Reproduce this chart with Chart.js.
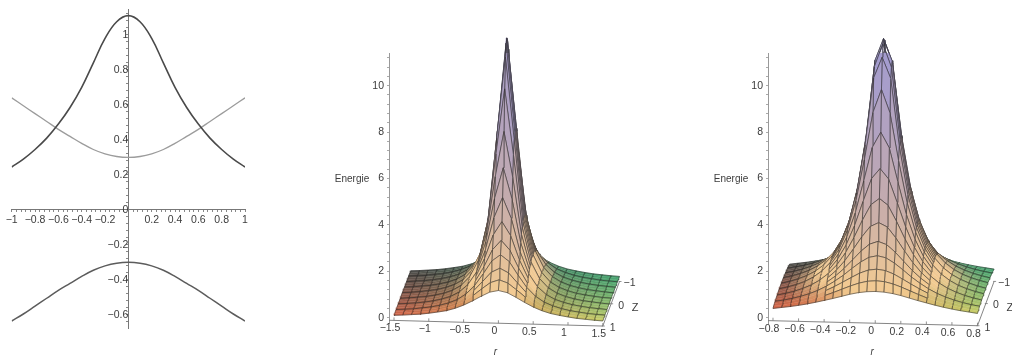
<!DOCTYPE html>
<html>
<head>
<meta charset="utf-8">
<script src="https://cdn.jsdelivr.net/npm/chart.js@4"></script>
<style>
html, body { margin: 0; background: #fff; overflow: hidden; }
canvas { position: absolute; filter: blur(0.6px); }
</style>
</head>
<body>
<canvas id="curves" width="260" height="340" style="left:0;top:0"></canvas>
<canvas id="wide" width="340" height="339" style="left:320px;top:20px"></canvas>
<canvas id="narrow" width="312" height="339" style="left:700px;top:20px"></canvas>
<script>
// left plot
const curveX = [-1,-0.9,-0.8,-0.7,-0.6,-0.5,-0.4,-0.3,-0.2,-0.1,0,0.1,0.2,0.3,0.4,0.5,0.6,0.7,0.8,0.9,1];
const upperBand = [0.245,0.29,0.345,0.41,0.49,0.585,0.7,0.84,0.98,1.075,1.11,1.075,0.98,0.84,0.7,0.585,0.49,0.41,0.345,0.29,0.245];
const middleBand = [0.64,0.595,0.55,0.505,0.46,0.42,0.38,0.345,0.32,0.305,0.3,0.305,0.32,0.345,0.38,0.42,0.46,0.505,0.55,0.595,0.64];
const lowerBand = [-0.635,-0.595,-0.55,-0.505,-0.46,-0.42,-0.38,-0.345,-0.32,-0.305,-0.3,-0.305,-0.32,-0.345,-0.38,-0.42,-0.46,-0.505,-0.55,-0.595,-0.635];

// surfaces: one quarter of the grid, front row (Z=1) to centre row (Z=0), r=0 to the outer edge
const zRows = [1,0.9167,0.8333,0.75,0.6667,0.5833,0.5,0.4167,0.3333,0.25,0.1667,0.0833,0];
const wideR = [0,0.125,0.25,0.375,0.5,0.625,0.75,0.875,1,1.125,1.25,1.375,1.5];
const narrowR = [0,0.0667,0.1333,0.2,0.2667,0.3333,0.4,0.4667,0.5333,0.6,0.6667,0.7333,0.8];
const wideEnergy = [
  [1.32,1.24,1.05,0.84,0.65,0.50,0.39,0.32,0.26,0.21,0.18,0.15,0.13],
  [1.70,1.57,1.29,0.99,0.74,0.55,0.43,0.34,0.27,0.22,0.19,0.16,0.13],
  [2.12,1.93,1.52,1.12,0.82,0.59,0.45,0.35,0.28,0.23,0.19,0.16,0.14],
  [2.62,2.34,1.77,1.25,0.88,0.63,0.48,0.37,0.29,0.24,0.19,0.16,0.14],
  [3.16,2.75,1.99,1.36,0.94,0.66,0.49,0.38,0.30,0.24,0.20,0.17,0.14],
  [3.89,3.30,2.27,1.49,1.00,0.69,0.51,0.39,0.30,0.24,0.20,0.17,0.14],
  [4.85,3.96,2.54,1.60,1.05,0.72,0.52,0.40,0.31,0.25,0.20,0.17,0.14],
  [6.05,4.72,2.84,1.70,1.09,0.74,0.53,0.40,0.31,0.25,0.20,0.17,0.14],
  [7.54,5.58,3.13,1.80,1.13,0.76,0.54,0.41,0.32,0.25,0.21,0.17,0.14],
  [9.30,6.48,3.38,1.88,1.16,0.77,0.55,0.41,0.32,0.25,0.21,0.17,0.14],
  [10.6,7.08,3.53,1.93,1.18,0.78,0.55,0.41,0.32,0.25,0.21,0.17,0.15],
  [11.1,7.28,3.59,1.94,1.18,0.78,0.56,0.42,0.32,0.26,0.21,0.17,0.15],
  [11.25,7.34,3.61,1.95,1.19,0.78,0.56,0.42,0.32,0.26,0.21,0.17,0.15]
];
const narrowEnergy = [
  [1.20,1.18,1.13,1.05,0.95,0.85,0.76,0.67,0.59,0.52,0.46,0.41,0.36],
  [1.58,1.55,1.46,1.33,1.18,1.03,0.89,0.77,0.67,0.58,0.51,0.44,0.39],
  [2.00,1.95,1.81,1.61,1.40,1.20,1.02,0.86,0.73,0.63,0.54,0.47,0.41],
  [2.50,2.42,2.20,1.92,1.62,1.36,1.13,0.94,0.79,0.67,0.57,0.49,0.43],
  [3.04,2.91,2.60,2.21,1.83,1.50,1.23,1.01,0.84,0.70,0.60,0.51,0.44],
  [3.77,3.59,3.13,2.59,2.08,1.66,1.33,1.08,0.89,0.74,0.62,0.53,0.45],
  [4.73,4.45,3.77,3.01,2.34,1.82,1.44,1.15,0.93,0.77,0.64,0.54,0.46],
  [5.94,5.50,4.50,3.45,2.60,1.98,1.53,1.21,0.97,0.79,0.66,0.56,0.47],
  [7.43,6.76,5.31,3.91,2.86,2.12,1.61,1.26,1.00,0.82,0.68,0.57,0.48],
  [9.19,8.19,6.15,4.35,3.08,2.24,1.68,1.30,1.03,0.83,0.69,0.58,0.49],
  [10.5,9.60,6.71,4.62,3.22,2.32,1.72,1.32,1.04,0.84,0.69,0.58,0.49],
  [11.0,10.0,6.90,4.71,3.26,2.34,1.74,1.33,1.05,0.84,0.70,0.58,0.49],
  [11.15,10.2,6.96,4.74,3.28,2.35,1.74,1.33,1.05,0.85,0.70,0.58,0.49]
];
const energyTicks = [0,2,4,6,8,10];
const wideTicks = [-1.5,-1,-0.5,0,0.5,1,1.5];
const narrowTicks = [-0.8,-0.6,-0.4,-0.2,0,0.2,0.4,0.6,0.8];
const zTicks = [-1,0,1];

const FONT = '"Liberation Sans", Arial, sans-serif';
const TXT = '#3c3c3c';
const GAP = { x: NaN, y: NaN };

function fmt(v) {
  return v < 0 ? '\u2212' + (-v) : String(v);
}
function xy(xs, ys) {
  return xs.map((x, i) => ({ x: x, y: ys[i] }));
}
function band(ys, color, w) {
  return { data: xy(curveX, ys), borderColor: color, borderWidth: w, pointRadius: 0, tension: 0.4, fill: false };
}

new Chart(document.getElementById('curves'), {
  type: 'line',
  data: { datasets: [band(upperBand, '#4a4a4a', 1.6), band(middleBand, '#9c9c9c', 1.3), band(lowerBand, '#5c5c5c', 1.5)] },
  options: {
    responsive: false,
    animation: false,
    devicePixelRatio: 1,
    events: [],
    layout: { padding: { left: 11.7, right: 15, top: 7, bottom: 12 } },
    plugins: { legend: { display: false }, tooltip: { enabled: false } },
    scales: {
      x: {
        type: 'linear', min: -1, max: 1, position: { y: 0 },
        grid: { drawOnChartArea: false, tickLength: 2, tickColor: '#888' },
        border: { color: '#777' },
        ticks: {
          stepSize: 0.04, autoSkip: false, maxRotation: 0, includeBounds: false, padding: 2,
          color: TXT, font: { family: FONT, size: 10.5 },
          callback: v => {
            const n = Math.round(v * 100);
            if (n === 0 || n % 20 !== 0) return '';
            return fmt(n / 100);
          }
        }
      },
      y: {
        type: 'linear', min: -0.675, max: 1.146, position: { x: 0 },
        grid: { drawOnChartArea: false, tickLength: 2, tickColor: '#888' },
        border: { color: '#777' },
        ticks: {
          stepSize: 0.04, autoSkip: false, includeBounds: false, padding: 3,
          color: TXT, font: { family: FONT, size: 10.5 },
          callback: v => {
            const n = Math.round(v * 100);
            return n % 20 !== 0 ? '' : fmt(n / 100);
          }
        }
      }
    }
  }
});

function mix(a, b, t) {
  t = Math.max(0, Math.min(1, t));
  return [a[0] + (b[0] - a[0]) * t, a[1] + (b[1] - a[1]) * t, a[2] + (b[2] - a[2]) * t];
}
function patchColor(u, d, e) {
  const front = mix([222, 104, 74], [208, 208, 104], u);
  const back = mix([78, 78, 76], [70, 165, 115], u);
  const base = mix(front, back, Math.pow(d, 0.7));
  let high = e < 4.5 ? mix([243, 203, 146], [198, 172, 172], (e - 1.2) / 3.3) : mix([198, 172, 172], [164, 156, 206], (e - 4.5) / 5.5);
  if (d > 0.5) high = mix(high, [84, 84, 92], (d - 0.5) * 1.6);
  const c = mix(base, high, (e - 0.55) / 0.65);
  return 'rgb(' + c.map(Math.round).join(',') + ')';
}

// p holds the oblique view of one surface: back edge shifted right and up, slight tilt along r
function project(p, r, z, e) {
  const d = (1 - z) / 2;
  return { x: r + p.dx * d, y: e + p.lift + p.tilt * r + p.dy * d };
}

function surfaceDatasets(rQuarter, energy, p) {
  const rs = rQuarter.slice(1).reverse().map(v => -v).concat(rQuarter);
  const zs = zRows.concat(zRows.slice(0, -1).reverse().map(v => -v));
  const n = rQuarter.length - 1;
  const at = (i, j) => energy[j <= n ? j : 2 * n - j][Math.abs(i - n)];
  const pt = (i, j) => project(p, rs[i], zs[j], at(i, j));
  const rMax = rQuarter[n];
  const sets = [];
  // front rows first: chart.js paints the first dataset last
  for (let j = 0; j < 2 * n; j++) {
    for (let i = 0; i < 2 * n; i++) {
      const e = (at(i, j) + at(i + 1, j) + at(i, j + 1) + at(i + 1, j + 1)) / 4;
      const color = patchColor((rs[i] + rs[i + 1] + 2 * rMax) / (4 * rMax), (j + 0.5) / (2 * n), e);
      // out on the flat tails only every third row line shows
      const outer = Math.min(Math.abs(i - n), Math.abs(i + 1 - n)) >= p.rowKeep;
      let mesh = [pt(i, j), pt(i, j + 1), GAP, pt(i + 1, j), pt(i + 1, j + 1)];
      if (!outer || j % 3 === 0) mesh = mesh.concat([GAP, pt(i, j), pt(i + 1, j)]);
      if (!outer || (j + 1) % 3 === 0) mesh = mesh.concat([GAP, pt(i, j + 1), pt(i + 1, j + 1)]);
      sets.push({
        data: mesh,
        borderColor: 'rgba(30,30,30,0.75)',
        borderWidth: 0.7,
        pointRadius: 0,
        tension: 0,
        fill: false,
        clip: false
      });
      sets.push({
        data: [pt(i, j), pt(i + 1, j), pt(i + 1, j + 1), pt(i, j + 1), pt(i, j)],
        backgroundColor: color,
        borderColor: color,
        borderWidth: 0.4,
        pointRadius: 0,
        tension: 0,
        fill: 'shape',
        clip: false
      });
    }
  }
  return sets;
}

function axisLine(a, b) {
  return { data: [a, b], borderColor: '#777', borderWidth: 0.9, pointRadius: 0, fill: false, clip: false };
}

function labelsPlugin(p, rTicks, rMax, zName, rLabelY) {
  return {
    id: 'surfaceLabels',
    afterDraw(chart) {
      const sx = chart.scales.x, sy = chart.scales.y, c = chart.ctx;
      c.save();
      c.fillStyle = TXT;
      c.strokeStyle = '#777';
      c.lineWidth = 0.8;
      c.font = '10.5px ' + FONT;
      c.textAlign = 'center';
      c.textBaseline = 'middle';
      rTicks.forEach(t => {
        const q = project(p, t, 1, p.axisE);
        const px = sx.getPixelForValue(q.x), py = sy.getPixelForValue(q.y);
        c.beginPath(); c.moveTo(px, py); c.lineTo(px, py - 3); c.stroke();
        c.fillText(fmt(t), px - 4, py + 8);
      });
      zTicks.forEach(t => {
        const q = project(p, rMax, t, p.axisE);
        const px = sx.getPixelForValue(q.x) + 2, py = sy.getPixelForValue(q.y);
        c.beginPath(); c.moveTo(px, py); c.lineTo(px - 3, py); c.stroke();
        c.fillText(fmt(t), px + 8, py + 2);
      });
      if (zName) {
        const q = project(p, rMax, 0, p.axisE);
        c.font = '11px ' + FONT;
        c.fillText('Z', sx.getPixelForValue(q.x) + 24, sy.getPixelForValue(q.y) + 4);
      }
      c.font = '10px ' + FONT;
      c.fillText('Energie', sx.left - 37, sy.getPixelForValue(5.98));
      c.font = 'italic 10px ' + FONT;
      const mid = project(p, 0, 1, p.axisE);
      c.fillText('r', sx.getPixelForValue(mid.x) - 3, rLabelY);
      c.restore();
    }
  };
}

function surfaceChart(id, rQuarter, energy, rTicks, p, box, zName) {
  const rMax = rQuarter[rQuarter.length - 1];
  const lines = [
    axisLine(project(p, box.rLeft, 1, p.axisE), project(p, rMax, 1, p.axisE)),
    axisLine(project(p, rMax, 1, p.axisE), project(p, rMax, -1, p.axisE))
  ];
  new Chart(document.getElementById(id), {
    type: 'line',
    data: { datasets: lines.concat(surfaceDatasets(rQuarter, energy, p)) },
    plugins: [labelsPlugin(p, rTicks, rMax, zName, 332)],
    options: {
      responsive: false,
      animation: false,
      devicePixelRatio: 1,
      events: [],
      layout: { padding: { left: box.left - 30, right: 0, top: 33, bottom: 36 } },
      plugins: { legend: { display: false }, tooltip: { enabled: false } },
      scales: {
        x: { type: 'linear', display: false, min: box.xMin, max: box.xMax },
        y: {
          type: 'linear', min: -0.23, max: 11.41,
          afterFit: s => { s.width = 30; },
          grid: { drawOnChartArea: false, tickLength: 2, tickColor: '#aaa' },
          border: { color: '#999' },
          ticks: {
            stepSize: 0.4, autoSkip: false, includeBounds: false, padding: 3,
            color: TXT, font: { family: FONT, size: 10.5 },
            callback: v => {
              const n = Math.round(v * 10) / 10;
              return energyTicks.includes(n) ? String(n) : '';
            }
          }
        }
      }
    }
  });
}

surfaceChart('wide', wideR, wideEnergy, wideTicks,
  { dx: 0.24, dy: 1.92, tilt: -0.081, lift: -0.15, axisE: -0.09, rowKeep: 3 },
  { left: 69, rLeft: -1.572, xMin: -1.572, xMax: 2.322 }, true);
surfaceChart('narrow', narrowR, narrowEnergy, narrowTicks,
  { dx: 0.13, dy: 1.91, tilt: -0.134, lift: -0.07, axisE: -0.17, rowKeep: 6 },
  { left: 68, rLeft: -0.839, xMin: -0.839, xMax: 1.07 }, true);
</script>
</body>
</html>
